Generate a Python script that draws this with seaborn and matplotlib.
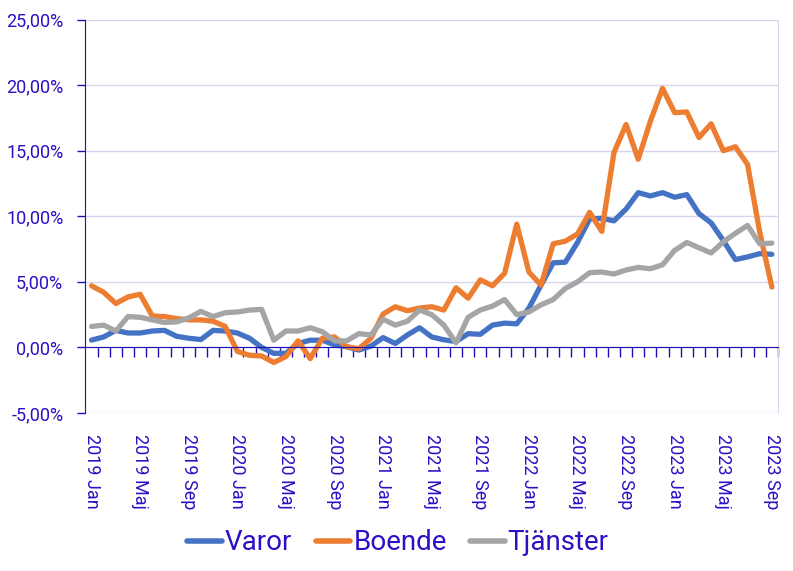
import pandas as pd
import numpy as np
import seaborn as sns
import matplotlib.pyplot as plt
from matplotlib.lines import Line2D

# månader 2019 Jan - 2023 Sep
years = [2019, 2020, 2021, 2022, 2023]
month_names = ['Jan', 'Feb', 'Mar', 'Apr', 'Maj', 'Jun', 'Jul', 'Aug', 'Sep', 'Okt', 'Nov', 'Dec']
months = [f"{y} {m}" for y in years for m in month_names][:57]

varor = [0.56, 0.8, 1.3, 1.1, 1.1, 1.25, 1.3, 0.85, 0.7, 0.6, 1.3, 1.25,
         1.1, 0.7, 0.0, -0.45, -0.45, 0.3, 0.55, 0.55, 0.2, 0.05, -0.2, 0.1,
         0.75, 0.3, 0.95, 1.5, 0.8, 0.58, 0.45, 1.05, 1.0, 1.7, 1.85, 1.8,
         3.0, 4.75, 6.45, 6.5, 8.0, 9.8, 9.85, 9.65, 10.55, 11.8, 11.55, 11.8,
         11.45, 11.65, 10.2, 9.5, 8.15, 6.7, 6.9, 7.15, 7.1]
boende = [4.7, 4.2, 3.35, 3.85, 4.05, 2.4, 2.35, 2.2, 2.1, 2.1, 2.0, 1.6,
          -0.3, -0.6, -0.65, -1.15, -0.7, 0.5, -0.85, 0.7, 0.8, 0.05, -0.1, 0.7,
          2.55, 3.1, 2.8, 3.0, 3.1, 2.85, 4.55, 3.75, 5.15, 4.7, 5.65, 9.4,
          5.75, 4.75, 7.9, 8.1, 8.65, 10.3, 8.85, 14.85, 17.0, 14.35, 17.25, 19.75,
          17.9, 17.95, 16.0, 17.05, 15.0, 15.3, 13.95, 8.8, 4.6]
tjanster = [1.6, 1.7, 1.25, 2.35, 2.3, 2.1, 1.9, 1.95, 2.25, 2.75, 2.35, 2.65,
            2.7, 2.85, 2.9, 0.55, 1.25, 1.25, 1.5, 1.2, 0.5, 0.5, 1.05, 0.95,
            2.15, 1.7, 2.0, 2.85, 2.5, 1.7, 0.35, 2.3, 2.85, 3.15, 3.65, 2.5,
            2.7, 3.25, 3.65, 4.5, 5.0, 5.7, 5.75, 5.6, 5.9, 6.1, 6.0, 6.3,
            7.4, 8.0, 7.6, 7.2, 8.05, 8.7, 9.3, 7.9, 7.95]

series_names = ['Varor', 'Boende', 'Tjänster']
colors = ['#4472C4', '#ED7D31', '#A5A5A5']
text_col = '#2B10C4'
axis_col = '#1E0FB4'
grid_col = '#D6D6EE'

df = pd.DataFrame({'i': np.arange(len(months)), 'Varor': varor, 'Boende': boende, 'Tjänster': tjanster})
long_df = df.melt(id_vars='i', var_name='serie', value_name='value')

sns.set_style('white')
plt.rcParams['font.family'] = ['Roboto', 'DejaVu Sans']

fig = plt.figure(figsize=(7.93, 5.71), dpi=100)
ax = fig.add_axes([0.1078, 0.2767, 0.981 - 0.1078, 0.9658 - 0.2767])

sns.lineplot(data=long_df, x='i', y='value', hue='serie', hue_order=series_names,
             palette=colors, linewidth=3.8, legend=False, ax=ax,
             solid_capstyle='round', solid_joinstyle='round')

ax.set_xlim(-0.5, len(months) - 0.5)
ax.set_ylim(-5, 25)
yticks = [-5, 0, 5, 10, 15, 20, 25]
ax.set_yticks(yticks)
ax.set_yticklabels([f"{v:.2f}%".replace('.', ',') for v in yticks], fontsize=13, color=text_col)
ax.yaxis.grid(True, color=grid_col, linewidth=1)
ax.xaxis.grid(False)
ax.tick_params(axis='y', direction='out', length=6, width=1, color=axis_col, pad=10, left=True)

# x-axel vid 0 med streck mellan månaderna
ax.spines['bottom'].set_position(('data', 0))
ax.spines['bottom'].set_color(axis_col)
ax.spines['left'].set_color(axis_col)
ax.spines['top'].set_visible(False)
ax.spines['right'].set_color(grid_col)
ax.set_xticks(np.arange(0.5, len(months), 1.0))
ax.set_xticklabels([])
ax.tick_params(axis='x', direction='out', length=7, width=1, color=axis_col, bottom=True)
ax.set_xlabel('')
ax.set_ylabel('')

# månadsetiketter längst ned
sec = ax.secondary_xaxis('bottom')
label_pos = list(range(0, len(months), 4))
sec.set_xticks(label_pos)
sec.set_xticklabels([months[p] for p in label_pos], rotation=270, fontsize=13, color=text_col)
sec.tick_params(length=0, pad=15)
sec.spines['bottom'].set_visible(False)

handles = [Line2D([0], [0], color=c, linewidth=4, solid_capstyle='round') for c in colors]
leg = fig.legend(handles, series_names, loc='center', bbox_to_anchor=(398 / 793, 1 - 543 / 571),
                 ncol=3, frameon=False, fontsize=20, handlelength=1.25, handletextpad=0.1,
                 columnspacing=0.85)
for t in leg.get_texts():
    t.set_color(text_col)

fig.savefig('out.png', dpi=100)
